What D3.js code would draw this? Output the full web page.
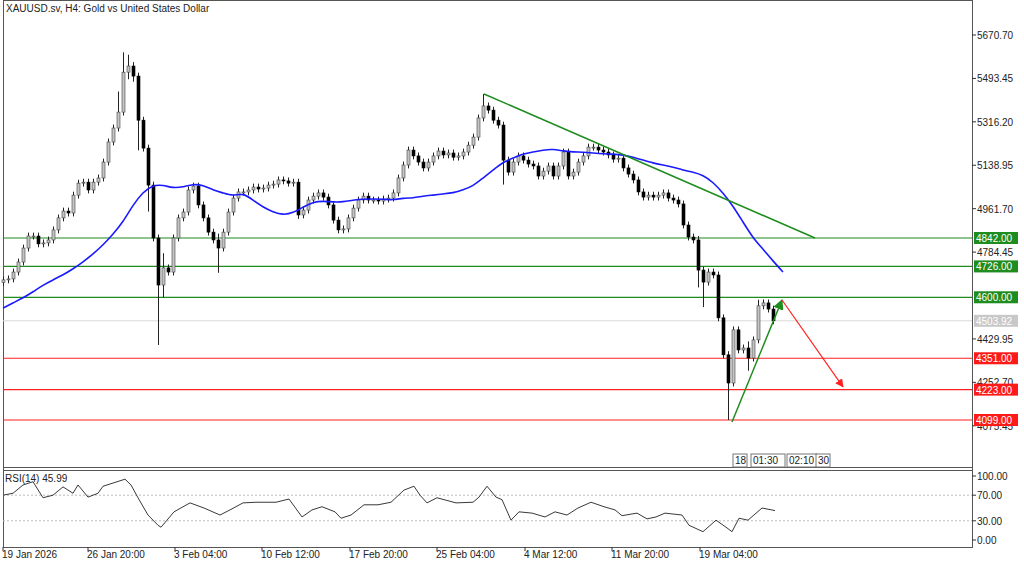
<!DOCTYPE html>
<html><head><meta charset="utf-8">
<script src="https://cdn.jsdelivr.net/npm/d3@7"></script>
<style>body{margin:0;background:#fff}text{font-family:"Liberation Sans",Arial,sans-serif;font-size:10px;fill:#222}</style>
</head><body>
<svg width="1024" height="564"></svg>
<script>
// H4 closes (one per bar)
var closes = [4671,4675,4703,4744,4801,4850,4850,4818,4822,4834,4875,4924,4952,4944,5017,5066,5070,5038,5070,5087,
5152,5234,5291,5356,5519,5544,5503,5323,5209,5058,4842,4650,4720,4703,4842,4924,4948,5038,5054,4977,
4924,4866,4834,4801,4866,4948,5005,5030,5030,5038,5050,5042,5046,5058,5062,5079,5075,5066,5070,4936,
4956,4997,5013,5026,5009,4977,4915,4875,4879,4924,4964,4997,5013,4997,4997,4993,5001,5005,5026,5087,
5140,5201,5177,5152,5128,5152,5177,5197,5181,5189,5172,5177,5193,5221,5254,5332,5381,5364,5323,5303,
5160,5111,5152,5177,5160,5144,5136,5095,5115,5136,5095,5136,5193,5095,5111,5152,5177,5213,5213,5201,
5193,5181,5164,5168,5128,5103,5079,5030,5009,5017,5009,5017,5026,5005,4997,4981,4895,4846,4834,4711,
4662,4703,4691,4516,4365,4250,4467,4385,4393,4352,4426,4565,4577,4552,4503.92];
var firstOpen = 4660;
// bars with long wicks: [bar, high, low]
var spikes = [[23,5440,5300],[24,5600,5380],[25,5590,5490],[26,5560,5480],[27,5420,5200],[29,5140,4950],[31,4800,4405],[32,4780,4600],
[43,4860,4700],[59,5080,4920],[96,5430,5340],[100,5310,5060],[139,4850,4640],[140,4700,4560],[145,4380,4099],[149,4420,4300],[151,4590,4480]];
var wickPad = 14;
// 50-period moving average, sampled every 2 bars
var maVals = [4556,4577,4597,4622,4650,4671,4691,4716,4744,4777,4813,4858,4907,4977,5030,5058,5058,5046,5050,5062,
5058,5038,5026,5013,5026,4997,4968,4948,4936,4944,4968,4989,4993,4989,4989,4997,5001,5001,5001,4997,
5005,5005,5013,5017,5022,5026,5038,5054,5087,5119,5152,5168,5185,5193,5201,5205,5197,5193,5193,5189,
5185,5185,5181,5172,5160,5148,5140,5132,5119,5111,5099,5070,5026,4973,4907,4842,4797,4748,4703];
var rsiBar = [0,2,4,6,8,10,12,14,15,17,19,20,24.4,25.6,27,29,31,31.6,32.8,34.2,37.4,40.2,43.4,45.4,48,50.6,54.6,57.2,59.8,61.8,63.8,66.4,67.6,69.6,72.2,75,77.6,80.2,82.2,83.4,84.8,86.8,90.6,94,95.2,96.8,98.6,99.8,101.6,103.2,105.8,108.4,110.4,112.8,115,117.6,120.2,122.4,123.8,126.8,128.8,130.6,132.4,135.8,137.2,140,142.6,144.6,145.8,147.2,149,151.8,154.4];
var rsiVals = [70,73,86,91,66,70,83,73,86,67,73,84,95,86,66,39,23,20,31,44,58,50,39,47,58,59,59,64,36,47,52,44,34,39,55,55,59,78,84,70,58,66,58,59,67,84,67,63,31,44,42,36,44,39,50,59,52,47,38,42,33,36,42,39,23,13,31,20,13,34,31,50,45.99];
var priceTicks = [5670.70,5493.45,5316.20,5138.95,4961.70,4784.45,4429.95,4252.70,4075.45];
var greenLevels = [4842,4726,4600];
var redLevels = [4351,4223,4099];
var lastPrice = 4503.92;
var rsiTicks = [100,70,30,0];
var dateIdx = [0,17,34.4,51.8,69.4,86.8,104.4,121.8,139.4];
var dateLabels = ["19 Jan 2026","26 Jan 20:00","3 Feb 04:00","10 Feb 12:00","17 Feb 20:00","25 Feb 04:00","4 Mar 12:00","11 Mar 20:00","19 Mar 04:00"];
// drawn objects: [bar1, price1, bar2, price2]
var trendLine = [96.2,5430,162.4,4842];
var upArrow = [145.8,4091,155.8,4589];
var downArrow = [155.8,4589,168,4234];

var svg = d3.select("svg");
var plotR = 972;
var x = d3.scaleLinear().domain([0,154]).range([3,773]);
var y = d3.scaleLinear().domain([4099,4842]).range([420,238]);
var yr = d3.scaleLinear().domain([0,100]).range([540,476]);

var defs = svg.append("defs");
[["ag","#1e8c1e"],["ar","#ff2020"]].forEach(function(a){
  defs.append("marker").attr("id",a[0]).attr("viewBox","0 0 10 10").attr("refX",9).attr("refY",5)
    .attr("markerWidth",7).attr("markerHeight",7).attr("orient","auto")
    .append("path").attr("d","M0,0L10,5L0,10z").attr("fill",a[1]);
});

// frame
svg.append("rect").attr("x",3.5).attr("y",0.5).attr("width",plotR-3).attr("height",547).attr("fill","none").attr("stroke","#555");
svg.append("line").attr("x1",3).attr("x2",plotR).attr("y1",467.5).attr("y2",467.5).attr("stroke","#555");
svg.append("line").attr("x1",3).attr("x2",plotR).attr("y1",470.5).attr("y2",470.5).attr("stroke","#555");

var main = svg.append("g");
// last price line
main.append("line").attr("x1",3).attr("x2",plotR).attr("y1",y(lastPrice)).attr("y2",y(lastPrice)).attr("stroke","#d8d8d8");
main.selectAll(".gl").data(greenLevels).enter().append("line").attr("x1",3).attr("x2",plotR)
  .attr("y1",function(d){return y(d);}).attr("y2",function(d){return y(d);}).attr("stroke","#1e8c1e").attr("stroke-width",1.2);
main.selectAll(".rl").data(redLevels).enter().append("line").attr("x1",3).attr("x2",plotR)
  .attr("y1",function(d){return y(d);}).attr("y2",function(d){return y(d);}).attr("stroke","#ff2020").attr("stroke-width",1.2);

// candles
var bars = closes.map(function(c,i){
  var o = i===0 ? firstOpen : closes[i-1];
  var h = Math.max(o,c)+wickPad, l = Math.min(o,c)-wickPad;
  spikes.forEach(function(s){ if(s[0]===i){ h=Math.max(h,s[1]); l=Math.min(l,s[2]); } });
  return {i:i,o:o,c:c,h:h,l:l};
});
var cg = main.append("g");
cg.selectAll(".w").data(bars).enter().append("line")
  .attr("x1",function(d){return x(d.i)+0.5;}).attr("x2",function(d){return x(d.i)+0.5;})
  .attr("y1",function(d){return y(d.h);}).attr("y2",function(d){return y(d.l);}).attr("stroke","#222");
cg.selectAll(".b").data(bars).enter().append("rect")
  .attr("x",function(d){return x(d.i)-1;}).attr("width",3)
  .attr("y",function(d){return y(Math.max(d.o,d.c));})
  .attr("height",function(d){return Math.max(1,Math.abs(y(d.o)-y(d.c)));})
  .attr("fill",function(d){return d.c>=d.o?"#c4c4c4":"#000";})
  .attr("stroke",function(d){return d.c>=d.o?"#444":"#000";}).attr("stroke-width",0.6);

// moving average
main.append("path").datum(maVals).attr("fill","none").attr("stroke","#1a1aff").attr("stroke-width",1.6)
  .attr("d",d3.line().curve(d3.curveBasis).x(function(d,i){return x(i*2);}).y(function(d){return y(d);}));

// trend line and arrows
main.append("line").attr("x1",x(trendLine[0])).attr("y1",y(trendLine[1])).attr("x2",x(trendLine[2])).attr("y2",y(trendLine[3]))
  .attr("stroke","#1e8c1e").attr("stroke-width",1.5);
main.append("line").attr("x1",x(upArrow[0])).attr("y1",y(upArrow[1])).attr("x2",x(upArrow[2])).attr("y2",y(upArrow[3]))
  .attr("stroke","#1e8c1e").attr("stroke-width",1.5).attr("marker-end","url(#ag)");
main.append("line").attr("x1",x(downArrow[0])).attr("y1",y(downArrow[1])).attr("x2",x(downArrow[2])).attr("y2",y(downArrow[3]))
  .attr("stroke","#ff2020").attr("stroke-width",1.2).attr("marker-end","url(#ar)");

// right price axis
var ax = svg.append("g");
ax.selectAll(".pt").data(priceTicks).enter().append("g").each(function(d){
  var g=d3.select(this);
  g.append("line").attr("x1",plotR).attr("x2",plotR+4).attr("y1",y(d)).attr("y2",y(d)).attr("stroke","#333");
  g.append("text").attr("x",plotR+5).attr("y",y(d)+4).text(d.toFixed(2));
});
function tag(v,col){
  var g=ax.append("g");
  g.append("rect").attr("x",plotR+2).attr("y",y(v)-6).attr("width",44).attr("height",12).attr("fill",col);
  g.append("text").attr("x",plotR+4).attr("y",y(v)+4).style("fill","#fff").text(v.toFixed(2));
}
greenLevels.forEach(function(v){tag(v,"#1e8c1e");});
redLevels.forEach(function(v){tag(v,"#ff1a1a");});
tag(lastPrice,"#c8c8c8");

// time boxes
var tb = svg.append("g");
[[733,14,"18"],[751,34,"01:30"],[787,30,"02:10"],[816,14,"30"]].forEach(function(b){
  tb.append("rect").attr("x",b[0]).attr("y",454).attr("width",b[1]).attr("height",13).attr("fill","#fff").attr("stroke","#777");
  tb.append("text").attr("x",b[0]+2).attr("y",464).text(b[2]);
});

// RSI panel
var rp = svg.append("g");
[70,30].forEach(function(v){
  rp.append("line").attr("x1",3).attr("x2",plotR).attr("y1",yr(v)).attr("y2",yr(v)).attr("stroke","#bbb").attr("stroke-dasharray","2,2");
});
rp.append("path").datum(rsiVals).attr("fill","none").attr("stroke","#222").attr("stroke-width",0.9)
  .attr("d",d3.line().x(function(d,i){return x(rsiBar[i]);}).y(function(d){return yr(d);}));
rp.selectAll(".rt").data(rsiTicks).enter().append("g").each(function(d){
  var g=d3.select(this);
  g.append("line").attr("x1",plotR).attr("x2",plotR+4).attr("y1",yr(d)).attr("y2",yr(d)).attr("stroke","#333");
  g.append("text").attr("x",plotR+5).attr("y",yr(d)+4).text(d.toFixed(2));
});
rp.append("text").attr("x",5).attr("y",482).text("RSI(14) 45.99");

// time axis
var tx = svg.append("g");
dateIdx.forEach(function(d,i){
  var px = i===0 ? 3 : x(d);
  tx.append("line").attr("x1",px).attr("x2",px).attr("y1",547).attr("y2",551).attr("stroke","#333");
  tx.append("text").attr("x",px-1).attr("y",558).text(dateLabels[i]);
});

svg.append("text").attr("x",6).attr("y",12).text("XAUUSD.sv, H4:  Gold vs United States Dollar");
</script>
</body></html>
